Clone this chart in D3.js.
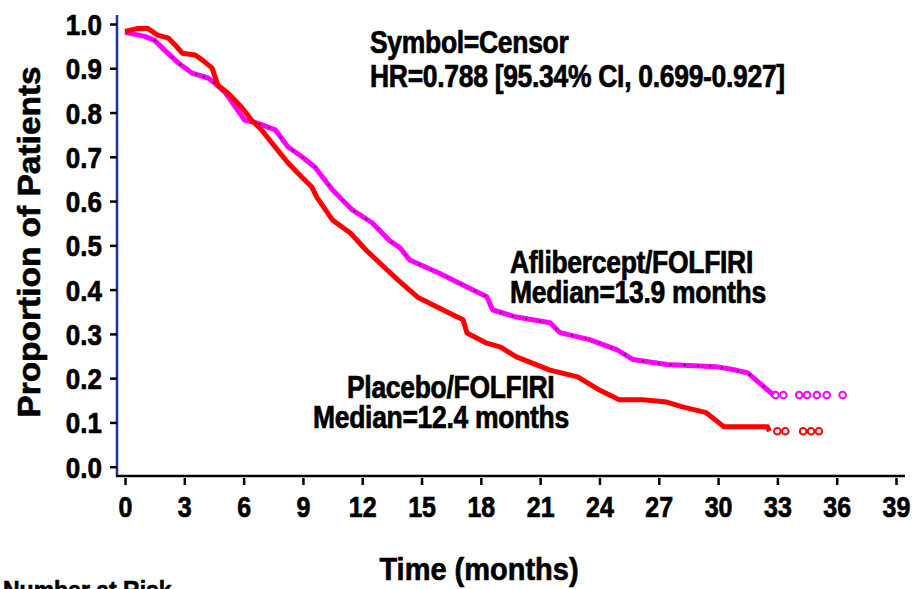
<!DOCTYPE html>
<html>
<head>
<meta charset="utf-8">
<script src="https://cdn.jsdelivr.net/npm/d3@7"></script>
<style>
  body { margin: 0; background: #fff; }
  text { font-family: "Liberation Sans", Arial, sans-serif; font-weight: bold; fill: #000; stroke: #000; stroke-width: 0.6px; }
</style>
</head>
<body>
<svg width="913" height="589"></svg>
<script>
// Kaplan-Meier curves (months, proportion)
var afliTime = [0, 1.0, 1.5, 2.0, 2.7, 3.4, 4.2, 4.55, 5.05, 6.05, 6.7, 7.6, 8.25, 8.95, 9.6, 10.5, 11.5, 12.5, 13.4, 13.9, 14.4, 15.9, 17.3, 18.3, 18.6, 19.8, 21.5, 22.0, 23.5, 24.9, 25.7, 27.4, 29.9, 30.8, 31.5, 32.1, 32.8];
var afliSurv = [0.981, 0.972, 0.963, 0.941, 0.912, 0.889, 0.878, 0.866, 0.846, 0.783, 0.776, 0.761, 0.722, 0.700, 0.677, 0.625, 0.580, 0.551, 0.510, 0.495, 0.467, 0.437, 0.406, 0.384, 0.354, 0.338, 0.325, 0.303, 0.287, 0.264, 0.242, 0.231, 0.226, 0.219, 0.212, 0.189, 0.162];

var placTime = [0, 0.65, 1.15, 1.65, 2.2, 2.55, 2.9, 3.55, 3.9, 4.4, 4.7, 5.2, 5.9, 6.4, 6.9, 7.6, 8.25, 8.95, 9.45, 9.7, 10.5, 11.4, 12.2, 13.1, 13.8, 14.8, 16.4, 17.1, 17.3, 18.3, 19.0, 19.8, 21.5, 22.9, 24.0, 25.0, 26.2, 27.4, 28.2, 29.4, 30.3, 32.5, 32.6];
var placSurv = [0.983, 0.990, 0.990, 0.975, 0.968, 0.952, 0.934, 0.930, 0.919, 0.901, 0.862, 0.844, 0.812, 0.783, 0.761, 0.722, 0.686, 0.654, 0.632, 0.609, 0.557, 0.528, 0.489, 0.451, 0.422, 0.383, 0.347, 0.332, 0.302, 0.279, 0.270, 0.248, 0.218, 0.203, 0.173, 0.151, 0.151, 0.146, 0.135, 0.122, 0.090, 0.090, 0.080];

// censored patients
var afliCensorDots = [1.5, 2.4, 2.8, 3.6, 4.0, 4.5, 6.8, 7.3, 7.9, 8.5, 9.0, 9.6, 10.3, 11.0, 11.6, 12.2, 12.8, 13.5, 14.2, 14.9, 15.5, 16.3, 17.0, 17.7, 18.2, 19.0, 19.6, 20.3, 21.0, 21.8, 22.6, 23.3, 24.0, 24.6, 25.3, 26.2, 27.0, 27.6, 28.3, 29.0, 29.6, 30.2, 31.0, 31.6, 32.3];
var afliCensorEnd = [32.9, 33.3, 34.1, 34.5, 35.0, 35.5, 36.3];
var placCensorEnd = [33.0, 33.4, 34.3, 34.7, 35.1];

var xTicks = [0, 3, 6, 9, 12, 15, 18, 21, 24, 27, 30, 33, 36, 39];
var yTicks = [0, 0.1, 0.2, 0.3, 0.4, 0.5, 0.6, 0.7, 0.8, 0.9, 1.0];

var svg = d3.select("svg");

var x = d3.scaleLinear().domain([0, 39]).range([125, 896]);
var y = d3.scaleLinear().domain([0, 1]).range([466.7, 24]);

//survival at a given time, used to put censor marks on the curve
function survAt(times, surv, t) {
  var f = d3.scaleLinear().domain(times).range(surv).clamp(true);
  return f(t);
}

//axis lines
svg.append("line")
    .attr("x1", 117).attr("x2", 117)
    .attr("y1", 15).attr("y2", 477)
    .attr("stroke", "#1f2fa8").attr("stroke-width", 2.5);

svg.append("line")
    .attr("x1", 116).attr("x2", 905)
    .attr("y1", 476).attr("y2", 476)
    .attr("stroke", "#000").attr("stroke-width", 2.5);

//y axis
var yAxis = svg.append("g")
    .attr("transform", "translate(117,0)")
    .call(d3.axisLeft(y).tickValues(yTicks).tickFormat(d3.format(".1f")).tickSize(7).tickSizeOuter(0));
yAxis.select(".domain").remove();
yAxis.selectAll(".tick line").attr("stroke", "#000").attr("stroke-width", 2.5);
yAxis.selectAll(".tick text")
    .attr("x", null).attr("dy", null)
    .attr("transform", "translate(-15,10.5) scale(1,1.15)")
    .style("font-size", "26px")
    .attr("fill", "#000");

//x axis
var xAxis = svg.append("g")
    .attr("transform", "translate(0,478)")
    .call(d3.axisBottom(x).tickValues(xTicks).tickSize(7).tickSizeOuter(0));
xAxis.select(".domain").remove();
xAxis.selectAll(".tick line").attr("stroke", "#000").attr("stroke-width", 2.5);
xAxis.selectAll(".tick text")
    .attr("y", null).attr("dy", null)
    .attr("transform", "translate(0,39) scale(1,1.2)")
    .style("font-size", "25px")
    .attr("fill", "#000");

//axis titles
svg.append("text")
    .attr("transform", "translate(40,242) rotate(-90) scale(1.08,1)")
    .attr("text-anchor", "middle")
    .style("font-size", "31px")
    .text("Proportion of Patients");

svg.append("text")
    .attr("transform", "translate(479,580) scale(1,1.08)")
    .attr("text-anchor", "middle")
    .style("font-size", "29px")
    .text("Time (months)");

svg.append("text")
    .attr("transform", "translate(3,599) scale(1,1.15)")
    .style("font-size", "23px")
    .text("Number at Risk");

//curves
var line = d3.line()
    .x(function(d) { return x(d[0]); })
    .y(function(d) { return y(d[1]); });

var curves = svg.append("g").attr("class", "curves");

curves.append("path")
    .datum(d3.zip(afliTime, afliSurv))
    .attr("d", line)
    .attr("fill", "none")
    .attr("stroke", "#ff00ff")
    .attr("stroke-width", 5)
    .attr("stroke-linejoin", "round");

curves.append("path")
    .datum(d3.zip(placTime, placSurv))
    .attr("d", line)
    .attr("fill", "none")
    .attr("stroke", "#ff0000")
    .attr("stroke-width", 5)
    .attr("stroke-linejoin", "round");

//censor dots along aflibercept curve
curves.append("g")
    .selectAll("circle")
    .data(afliCensorDots)
    .enter().append("circle")
    .attr("cx", function(d) { return x(d); })
    .attr("cy", function(d) { return y(survAt(afliTime, afliSurv, d)); })
    .attr("r", 0.9)
    .attr("fill", "#000");

//censor circles past the last event
curves.append("g")
    .selectAll("circle")
    .data(afliCensorEnd)
    .enter().append("circle")
    .attr("cx", function(d) { return x(d); })
    .attr("cy", y(afliSurv[afliSurv.length - 1]))
    .attr("r", 3.3)
    .attr("fill", "none")
    .attr("stroke", "#ff00ff")
    .attr("stroke-width", 2);

curves.append("g")
    .selectAll("circle")
    .data(placCensorEnd)
    .enter().append("circle")
    .attr("cx", function(d) { return x(d); })
    .attr("cy", y(placSurv[placSurv.length - 1]))
    .attr("r", 3.3)
    .attr("fill", "none")
    .attr("stroke", "#ff0000")
    .attr("stroke-width", 2);

//annotations
var notes = [
  {t: "Symbol=Censor", x: 370, y: 53, a: "start"},
  {t: "HR=0.788 [95.34% CI, 0.699-0.927]", x: 370, y: 87, a: "start"},
  {t: "Aflibercept/FOLFIRI", x: 510, y: 273, a: "start"},
  {t: "Median=13.9 months", x: 510, y: 303, a: "start"},
  {t: "Placebo/FOLFIRI", x: 347, y: 398, a: "start"},
  {t: "Median=12.4 months", x: 313, y: 428, a: "start"}
];

svg.append("g")
    .selectAll("text")
    .data(notes)
    .enter().append("text")
    .attr("transform", function(d) { return "translate(" + d.x + "," + d.y + ") scale(1,1.18)"; })
    .attr("text-anchor", function(d) { return d.a; })
    .style("font-size", "26.5px")
    .style("letter-spacing", "-0.3px")
    .text(function(d) { return d.t; });
</script>
</body>
</html>
